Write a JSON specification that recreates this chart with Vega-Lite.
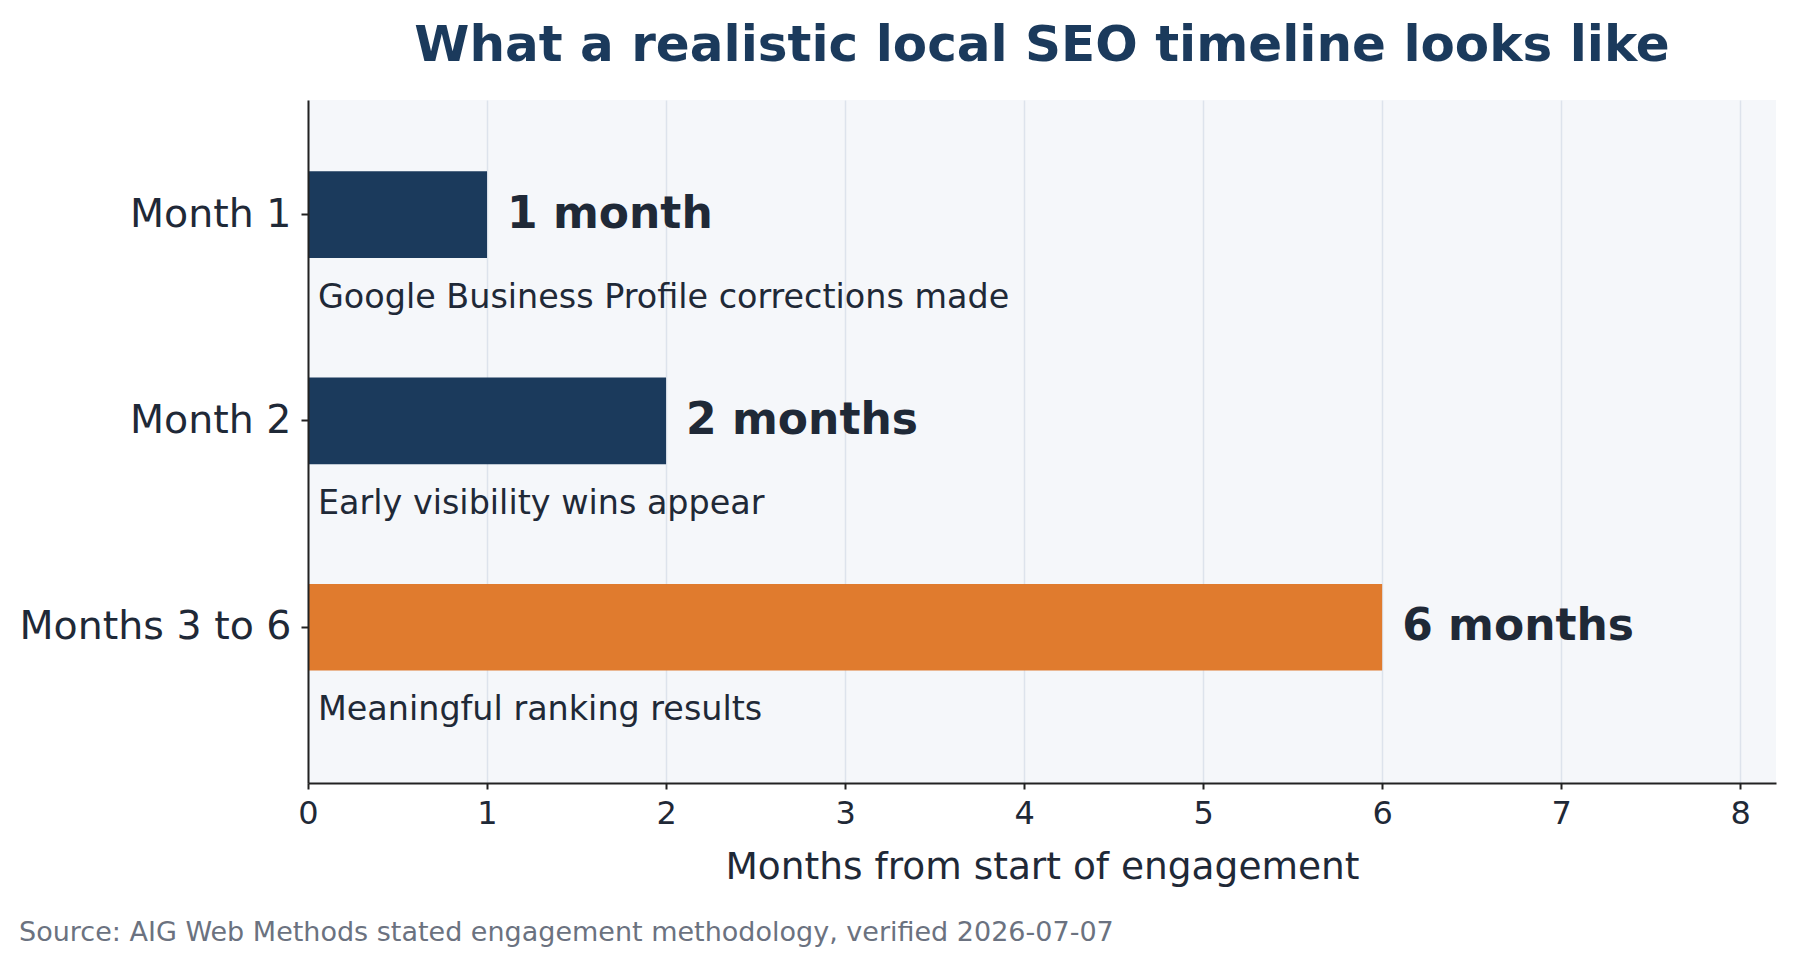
{
  "$schema": "https://vega.github.io/schema/vega-lite/v6.json",
  "background": "white",
  "padding": {"left": 19, "top": 21, "right": 10, "bottom": 5},
  "config": {
    "font": "DejaVu Sans",
    "view": {"fill": "#f5f7fa", "stroke": null},
    "axis": {
      "labelColor": "#1f2937",
      "titleColor": "#1f2937",
      "tickColor": "#222222",
      "domainColor": "#222222",
      "domainWidth": 2,
      "tickWidth": 2
    }
  },
  "title": {
    "text": "Source: AIG Web Methods stated engagement methodology, verified 2026-07-07",
    "orient": "bottom",
    "anchor": "start",
    "frame": "bounds",
    "fontSize": 27,
    "fontWeight": "normal",
    "color": "#6b7280",
    "offset": 34
  },
  "vconcat": [
    {
      "title": {
        "text": "What a realistic local SEO timeline looks like",
        "fontSize": 50,
        "fontWeight": "bold",
        "color": "#1b3a5c",
        "anchor": "middle",
        "offset": 29
      },
      "width": 1468,
      "height": 683,
      "data": {
        "values": [
          {"period": "Month 1", "months": 1, "label": "1 month", "note": "Google Business Profile corrections made", "group": "build"},
          {"period": "Month 2", "months": 2, "label": "2 months", "note": "Early visibility wins appear", "group": "build"},
          {"period": "Months 3 to 6", "months": 6, "label": "6 months", "note": "Meaningful ranking results", "group": "payoff"}
        ]
      },
      "encoding": {
        "y": {
          "field": "period",
          "type": "nominal",
          "sort": null,
          "scale": {"paddingInner": 0.58, "paddingOuter": 0.445, "align": 0.388},
          "axis": {
            "title": null,
            "labelFontSize": 39.5,
            "labelLimit": 0,
            "tickSize": 7,
            "labelPadding": 10,
            "grid": false,
            "zindex": 1
          }
        }
      },
      "layer": [
        {
          "mark": {"type": "bar"},
          "encoding": {
            "x": {
              "field": "months",
              "type": "quantitative",
              "scale": {"domain": [0, 8.2], "nice": false},
              "axis": {
                "title": "Months from start of engagement",
                "titleFontSize": 37.5,
                "titleFontWeight": "normal",
                "titlePadding": 19,
                "labelFontSize": 32,
                "labelPadding": 9,
                "labelFlush": false,
                "tickSize": 6,
                "values": [0, 1, 2, 3, 4, 5, 6, 7, 8],
                "format": "d",
                "grid": true,
                "gridColor": "#dde3ec",
                "gridWidth": 1.5
              }
            },
            "color": {
              "field": "group",
              "type": "nominal",
              "scale": {"domain": ["build", "payoff"], "range": ["#1b3a5c", "#e07b2e"]},
              "legend": null
            }
          }
        },
        {
          "mark": {"type": "text", "align": "left", "baseline": "middle", "dx": 20, "fontSize": 44, "fontWeight": "bold", "color": "#1f2937"},
          "encoding": {
            "x": {"field": "months", "type": "quantitative"},
            "text": {"field": "label"}
          }
        },
        {
          "mark": {"type": "text", "align": "left", "baseline": "alphabetic", "dx": 10, "dy": 93, "fontSize": 33.4, "color": "#1f2937"},
          "encoding": {
            "x": {"datum": 0, "type": "quantitative"},
            "text": {"field": "note"}
          }
        }
      ]
    }
  ]
}
